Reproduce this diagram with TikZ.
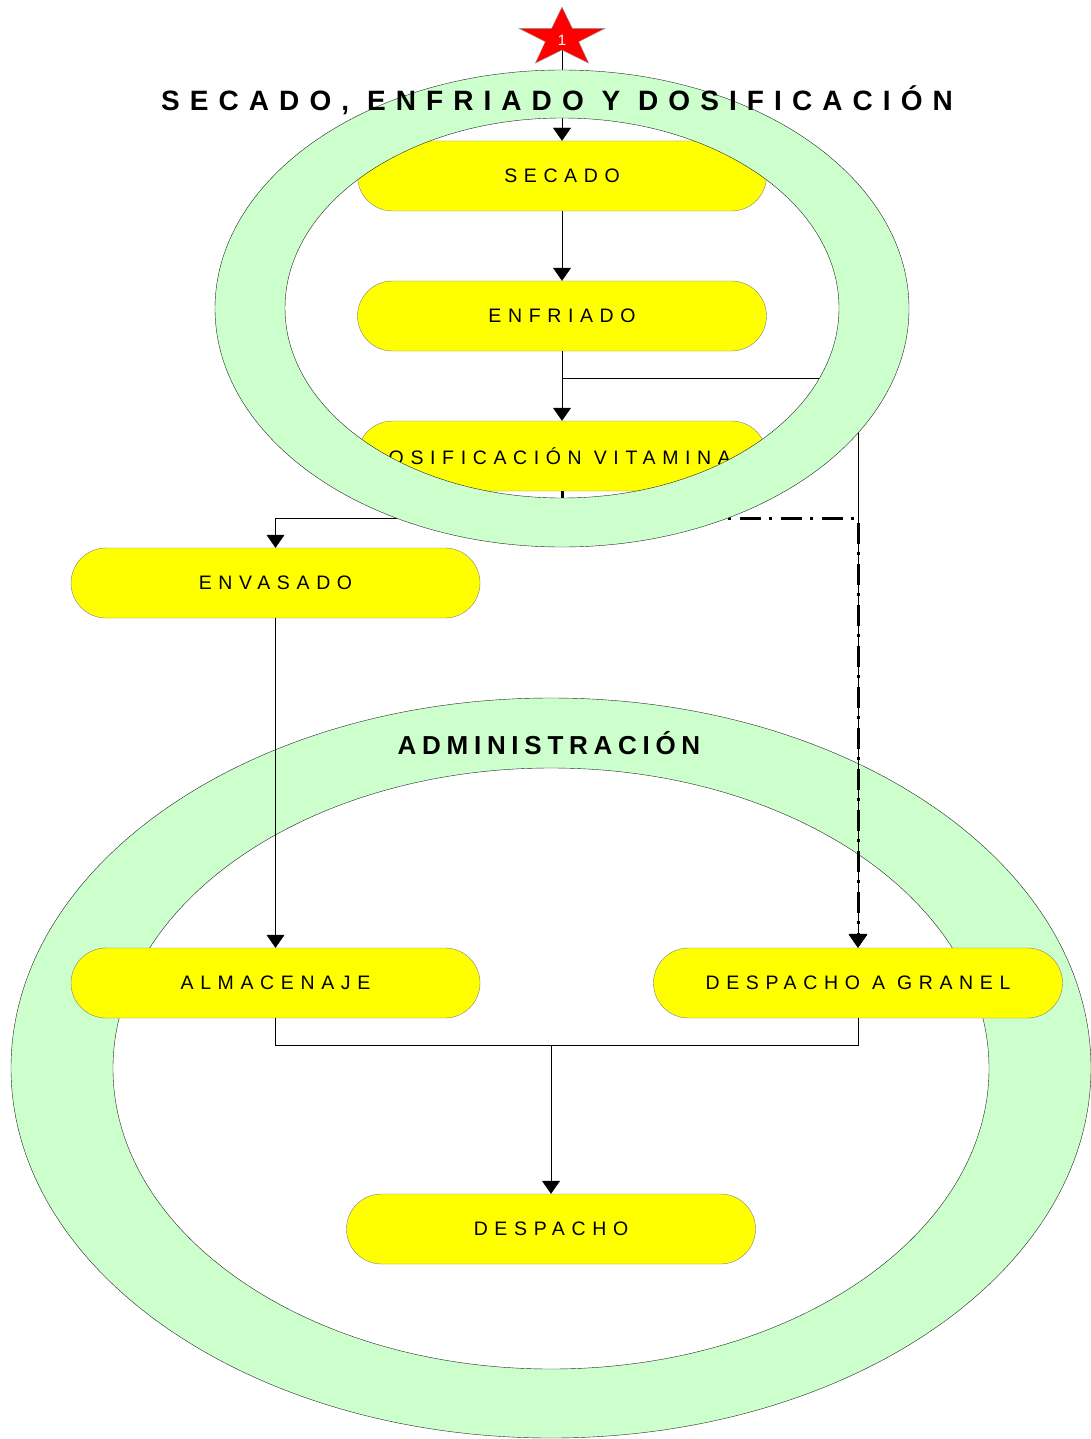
\documentclass[tikz,border=0pt]{standalone}
\usepackage{fontspec}
\setmainfont{Liberation Sans}
\newfontfamily\stagefont[LetterSpace=34]{Liberation Sans}
\newfontfamily\zonefont[LetterSpace=36]{Liberation Sans}
\newfontfamily\adminfont[LetterSpace=22]{Liberation Sans}
\usetikzlibrary{arrows.meta}
\definecolor{lemon}{RGB}{255, 255, 0}
\definecolor{mint}{RGB}{204, 255, 204}
\definecolor{starred}{RGB}{255, 0, 0}

\begin{document}
\begin{tikzpicture}[x=1pt, y=-1pt,
    stage/.style={draw=gray, fill=lemon, rounded corners=35pt, minimum width=409pt,
                  minimum height=70pt, inner sep=0pt, font=\stagefont\fontsize{19.5}{21}\selectfont},
    ring/.style={fill=mint, draw=black!85, even odd rule},
    flow/.style={-{Triangle[width=18pt,length=13pt]}},
    dashflow/.style={line width=3pt, dash pattern=on 21pt off 8pt on 3pt off 9pt,
                     -{Triangle[width=18pt,length=14pt]}}]
            \useasboundingbox (0,0) rectangle (1091,1439);
            % lower zone
            \filldraw[ring] (551,1068) ellipse (540pt and 370pt) (551,1068.5) ellipse (438pt and 300.5pt);
            \node[font=\adminfont\bfseries\fontsize{26}{28}\selectfont] (admin) at (549,743) {ADMINISTRACIÓN};
            % stages
            \node[stage] (secado)     at (562.0, 176) {SECADO};
            \node[stage] (enfriado)   at (562.0, 316) {ENFRIADO};
            \node[stage] (dosif)      at (562.0, 456) {DOSIFICACIÓN VITAMINA A};
            \node[stage] (envasado)   at (275.5, 583) {ENVASADO};
            \node[stage] (almacenaje) at (275.5, 983) {ALMACENAJE};
            \node[stage] (granel)     at (858.0, 983) {DESPACHO A GRANEL};
            \node[stage] (despacho)   at (551.0,1229) {DESPACHO};
            % connectors
            \coordinate (starfoot) at (562, 50);
            \coordinate (tap)      at (562, 378);
            \coordinate (fork)     at (562, 518);
            \coordinate (join)     at (551,1045);
            \draw[flow] (starfoot) -- (secado.north);
            \draw[flow] (secado.south) -- (enfriado.north);
            \draw[flow] (enfriado.south) -- (dosif.north);
            \draw[flow] (tap) -| (granel.north);
            \draw[flow] (dosif.south) -- (fork) -| (envasado.north);
            \draw[dashflow] (dosif.south) -- (fork) -| (granel.north);
            \draw[flow] (envasado.south) -- (almacenaje.north);
            \draw (almacenaje.south) |- (join) -| (granel.south);
            \draw[flow] (join) -- (despacho.north);
            % upper zone
            \filldraw[ring] (562,308.5) ellipse (347pt and 238.5pt) (562,308) ellipse (277pt and 190pt);
            \node[font=\zonefont\bfseries\fontsize{28}{30}\selectfont] (zone) at (557,100) {SECADO, ENFRIADO Y DOSIFICACIÓN};
            % start mark
            \filldraw[fill=starred, draw=gray!80] (562,7) -- (572.3,28.3) -- (605,28.4) -- (578.7,41.7) -- (588.6,63.1)
                -- (562,50) -- (535.4,63.1) -- (545.3,41.7) -- (519,28.4) -- (551.7,28.3) -- cycle;
            \node[text=white, font=\fontsize{15}{15}\selectfont] (start) at (562,40) {1};
\end{tikzpicture}
\end{document}
